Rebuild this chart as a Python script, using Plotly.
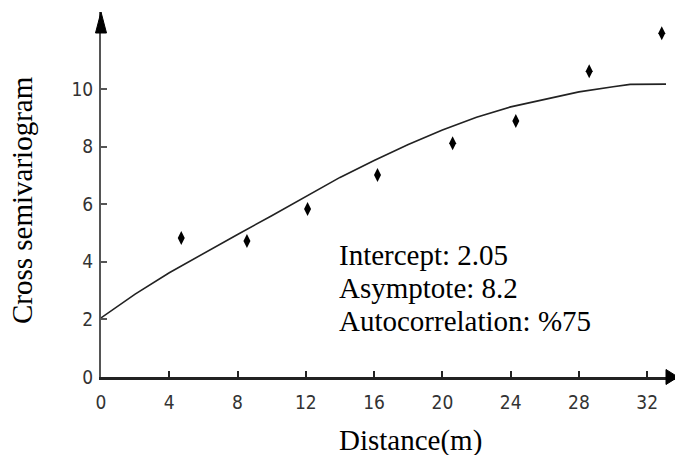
import plotly.graph_objects as go

# Observed cross-semivariogram points
dist = [4.7, 8.55, 12.1, 16.2, 20.6, 24.3, 28.6, 32.85]
semiv = [4.83, 4.72, 5.83, 7.01, 8.12, 8.89, 10.62, 11.94]

# Fitted model curve
curve_x = [0, 2, 4, 6, 8, 10, 12, 14, 16, 18, 20, 22, 24, 26, 28, 30, 31, 33.1]
curve_y = [2.05, 2.88, 3.62, 4.30, 4.95, 5.60, 6.27, 6.93, 7.52, 8.07, 8.58, 9.02, 9.38, 9.65, 9.90, 10.08, 10.16, 10.17]

x_ticks = [0, 4, 8, 12, 16, 20, 24, 28, 32]
y_ticks = [0, 2, 4, 6, 8, 10]

ann_lines = ["Intercept: 2.05", "Asymptote: 8.2", "Autocorrelation: %75"]

W, H = 675, 455
L, R, T, B = 101, 0, 12, 78
pw, ph = W - L - R, H - T - B
XMAX = pw / 17.07
YMAX = ph / 28.8

def px(x):
    return (x - L) / pw

def py(y):
    return (H - B - y) / ph

fig = go.Figure()
fig.add_trace(go.Scatter(x=curve_x, y=curve_y, mode="lines",
                         line=dict(color="#222222", width=1.6),
                         hoverinfo="skip", showlegend=False))
fig.add_trace(go.Scatter(x=dist, y=semiv, mode="markers",
                         marker=dict(symbol="diamond-tall", size=10, color="black"),
                         showlegend=False))

# axis arrowheads (pixel-sized paths anchored at axis ends, paper refs so not clipped)
fig.add_shape(type="path", xref="paper", yref="paper", xsizemode="pixel", ysizemode="pixel",
              xanchor=0, yanchor=1, path="M -5.5,-21 L 5.5,-21 L 0,0 Z",
              fillcolor="black", line=dict(color="black", width=1), layer="above")
fig.add_shape(type="path", xref="paper", yref="paper", xsizemode="pixel", ysizemode="pixel",
              xanchor=1, yanchor=0, path="M -9,-7.5 L -9,7.5 L 3,0 Z",
              fillcolor="black", line=dict(color="black", width=1), layer="above")

tickfont = dict(family="Liberation Sans Narrow, DejaVu Sans Condensed, Roboto Condensed, Roboto",
                size=19, color="#333333")
fig.update_xaxes(range=[0, XMAX], tickvals=x_ticks, ticktext=[str(v) for v in x_ticks],
                 ticks="inside", ticklen=6, tickwidth=1.5, tickcolor="#222222",
                 showline=True, linecolor="#222222", linewidth=2.5,
                 showgrid=False, zeroline=False, tickfont=tickfont, ticklabelstandoff=6)
fig.update_yaxes(range=[0, YMAX], tickvals=y_ticks, ticktext=[str(v) for v in y_ticks],
                 ticks="inside", ticklen=6, tickwidth=1.5, tickcolor="#555555",
                 showline=True, linecolor="#555555", linewidth=2,
                 showgrid=False, zeroline=False, tickfont=tickfont, ticklabelstandoff=2)

serif = dict(family="Liberation Serif, Times New Roman, serif", size=29, color="black")
anns = []
for i, (txt, yb) in enumerate(zip(ann_lines, [255, 288, 321])):
    anns.append(dict(text=txt, x=px(337), y=py(yb), xref="paper", yref="paper",
                     xanchor="left", yanchor="middle", showarrow=False, font=serif))
anns.append(dict(text="Distance(m)", x=px(410), y=py(440), xref="paper", yref="paper",
                 xanchor="center", yanchor="middle", showarrow=False, font=serif))
anns.append(dict(text="Cross semivariogram", x=px(22), y=py(200), xref="paper", yref="paper",
                 xanchor="center", yanchor="middle", showarrow=False, font=serif, textangle=-90))

fig.update_layout(width=W, height=H, margin=dict(l=L, r=R, t=T, b=B),
                  plot_bgcolor="white", paper_bgcolor="white", annotations=anns)
fig.write_html("out.html")
